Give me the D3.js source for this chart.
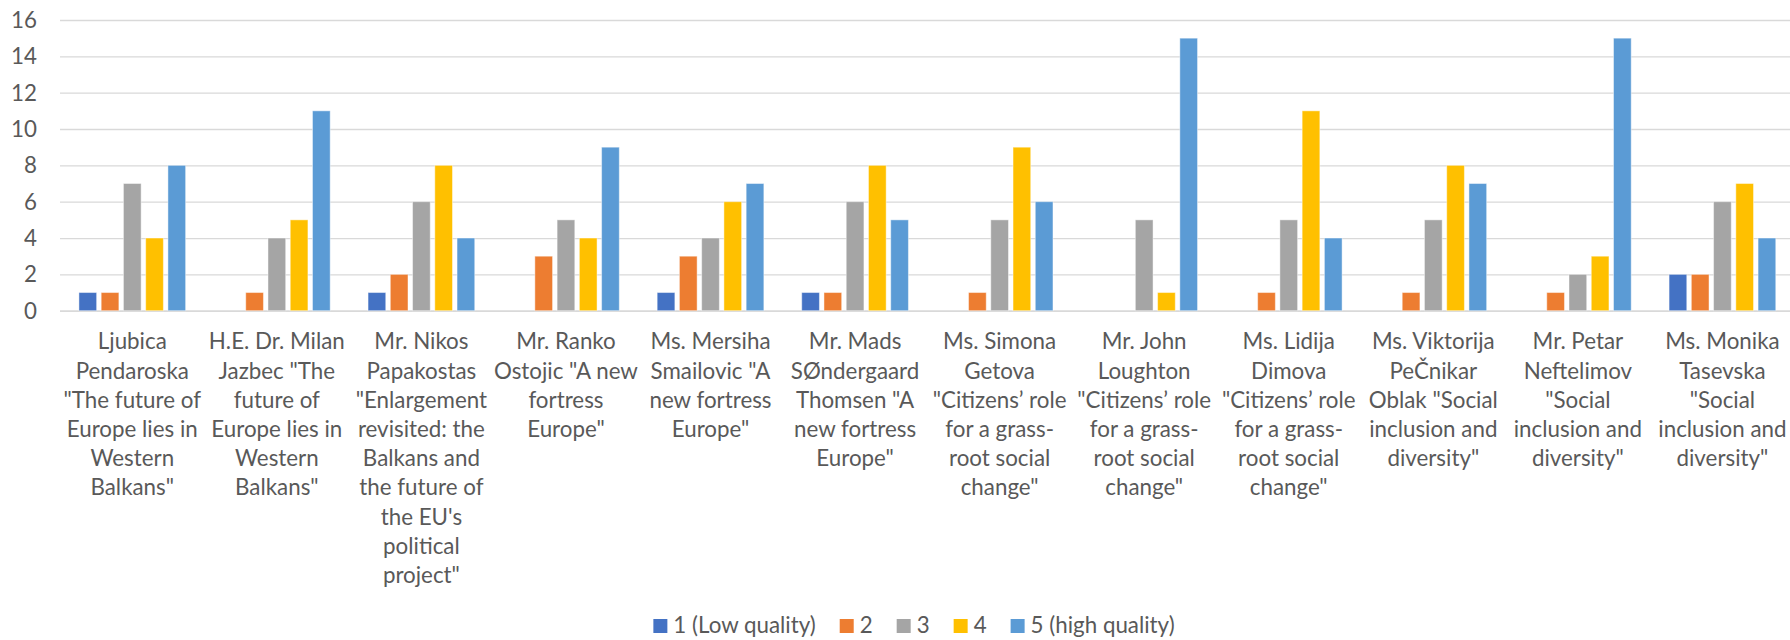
<!DOCTYPE html>
<html>
<head>
<meta charset="utf-8">
<script src="https://cdn.jsdelivr.net/npm/d3@7"></script>
<style>
  html, body { margin: 0; padding: 0; background: #fff; }
  svg { display: block; }
</style>
</head>
<body>
<svg id="chart" width="1790" height="640"></svg>
<script>
const categories = [
  "Ljubica\nPendaroska\n\"The future of\nEurope lies in\nWestern\nBalkans\"",
  "H.E. Dr. Milan\nJazbec \"The\nfuture of\nEurope lies in\nWestern\nBalkans\"",
  "Mr. Nikos\nPapakostas\n\"Enlargement\nrevisited: the\nBalkans and\nthe future of\nthe EU's\npolitical\nproject\"",
  "Mr. Ranko\nOstojic \"A new\nfortress\nEurope\"",
  "Ms. Mersiha\nSmailovic \"A\nnew fortress\nEurope\"",
  "Mr. Mads\nSØndergaard\nThomsen \"A\nnew fortress\nEurope\"",
  "Ms. Simona\nGetova\n\"Citizens’ role\nfor a grass-\nroot social\nchange\"",
  "Mr. John\nLoughton\n\"Citizens’ role\nfor a grass-\nroot social\nchange\"",
  "Ms. Lidija\nDimova\n\"Citizens’ role\nfor a grass-\nroot social\nchange\"",
  "Ms. Viktorija\nPeČnikar\nOblak \"Social\ninclusion and\ndiversity\"",
  "Mr. Petar\nNeftelimov\n\"Social\ninclusion and\ndiversity\"",
  "Ms. Monika\nTasevska\n\"Social\ninclusion and\ndiversity\""
];
const seriesNames = ["1 (Low quality)", "2", "3", "4", "5 (high quality)"];
const lowQuality  = [1, 0, 1, 0, 1, 1, 0, 0, 0, 0, 0, 2];
const quality2    = [1, 1, 2, 3, 3, 1, 1, 0, 1, 1, 1, 2];
const quality3    = [7, 4, 6, 5, 4, 6, 5, 5, 5, 5, 2, 6];
const quality4    = [4, 5, 8, 4, 6, 8, 9, 1, 11, 8, 3, 7];
const highQuality = [8, 11, 4, 9, 7, 5, 6, 15, 4, 7, 15, 4];
const seriesValues = [lowQuality, quality2, quality3, quality4, highQuality];
const yTicks = [0, 2, 4, 6, 8, 10, 12, 14, 16];
const colors = ["#4472C4", "#ED7D31", "#A5A5A5", "#FFC000", "#5B9BD5"];

(function () {
const svg = d3.select("#chart");
const FONT = "Lato, 'Open Sans', sans-serif";
const textColor = "#595959";

const probe = svg.append("text").attr("font-family", FONT).attr("font-size", 100).text("Europe lies in");
const pw = probe.node().getComputedTextLength();
probe.remove();
const FS = Math.min(26, Math.max(18, 131 / (pw / 100)));

const plotLeft = 60, plotRight = 1794.7, plotTop = 20, plotBottom = 310.7;
const x0 = d3.scaleBand().domain(categories).range([plotLeft, plotRight]).padding(0);
const x1 = d3.scaleBand().domain(seriesNames).range([0, x0.bandwidth()])
  .paddingInner(0.2045).paddingOuter(0.851);
const y = d3.scaleLinear().domain([0, 16]).range([plotBottom, plotTop]);

const grid = svg.append("g").attr("transform", `translate(${plotLeft},0)`)
  .call(d3.axisLeft(y).tickValues(yTicks).tickSize(-(1790 - plotLeft)).tickFormat(""));
grid.select(".domain").remove();
grid.selectAll(".tick line").attr("stroke", "#D9D9D9").attr("stroke-width", d => d === 0 ? 1.8 : 1.3);

const yAxis = svg.append("g").attr("transform", `translate(37,0)`)
  .call(d3.axisLeft(y).tickValues(yTicks).tickSize(0).tickPadding(0));
yAxis.select(".domain").remove();
yAxis.selectAll("text").attr("font-family", FONT).attr("font-size", FS)
  .attr("fill", textColor).attr("dy", "0.34em").attr("x", 0).attr("text-anchor", "end");

seriesNames.forEach((s, i) => {
  svg.append("g").selectAll("rect")
    .data(categories.map((c, j) => ({c, v: seriesValues[i][j]})).filter(d => d.v > 0))
    .join("rect")
    .attr("x", d => x0(d.c) + x1(s))
    .attr("width", x1.bandwidth())
    .attr("y", d => y(d.v))
    .attr("height", d => y(0) - y(d.v))
    .attr("fill", colors[i])
    .attr("stroke", "rgba(255,255,255,0.45)")
    .attr("stroke-width", 1);
});

const lineH = 29.2;
const catG = svg.append("g");
categories.forEach(c => {
  const lines = c.split("\n");
  const t = catG.append("text")
    .attr("font-family", FONT).attr("font-size", FS).attr("fill", textColor)
    .attr("text-anchor", "middle");
  lines.forEach((ln, k) => {
    t.append("tspan").attr("x", x0(c) + x0.bandwidth() / 2)
      .attr("y", 341.7 + k * lineH).attr("dy", "0.34em").text(ln);
  });
});

const leg = svg.append("g");
let cx = 0;
seriesNames.forEach((s, i) => {
  const g = leg.append("g");
  g.append("rect").attr("x", cx).attr("y", 619).attr("width", 14).attr("height", 14).attr("fill", colors[i]);
  const t = g.append("text").attr("x", cx + 20).attr("y", 625.5).attr("dy", "0.34em")
    .attr("font-family", FONT).attr("font-size", FS).attr("fill", textColor).text(s);
  const w = t.node().getComputedTextLength();
  cx += 20 + w + 24;
});
const totalW = cx - 24;
leg.attr("transform", `translate(${658 + (512 - totalW) / 2},0)`);
})();
</script>
</body>
</html>
